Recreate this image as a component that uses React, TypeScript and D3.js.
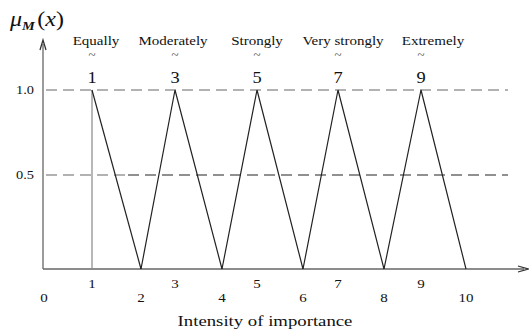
import { useEffect, useRef } from 'react';
import * as d3 from 'd3';

// Saaty scale, triangular fuzzy numbers
const intensities = [0, 1, 2, 3, 4, 5, 6, 7, 8, 9, 10];
const categories = ['Equally', 'Moderately', 'Strongly', 'Very strongly', 'Extremely'];
const peaks = [1, 3, 5, 7, 9];
const lowers = [1, 2, 4, 6, 8];
const uppers = [2, 4, 6, 8, 10];
const yTicks = [0.5, 1.0];

export default function App() {
  const svgRef = useRef<SVGSVGElement>(null);

  useEffect(() => {
    const svg = d3.select(svgRef.current);
    svg.selectAll('*').remove();

    const font = "'Liberation Serif', 'Times New Roman', serif";
    // the original figure is not evenly spaced, so use a piecewise scale
    const x = d3.scaleLinear()
      .domain(intensities)
      .range([43, 92, 141, 175, 222, 257, 303, 338, 384, 421, 466]);
    const y = d3.scaleLinear().domain([0, 0.5, 1]).range([269, 175, 90]);

    // the scanned figure is stretched sideways, so text is too
    const label = (tx: number, ty: number, txt: string, size: number, anchor = 'middle', sx = 1.25) =>
      svg.append('text')
        .attr('transform', `translate(${tx},${ty}) scale(${sx},1)`)
        .attr('text-anchor', anchor)
        .style('font-family', font)
        .style('font-size', `${size}px`)
        .style('fill', '#111')
        .text(txt);

    const axisColor = '#666';

    // axes with arrows
    svg.append('line')
      .attr('x1', x(0)).attr('x2', x(0))
      .attr('y1', y(0)).attr('y2', 44)
      .attr('stroke', axisColor).attr('stroke-width', 1.3);
    svg.append('path')
      .attr('d', `M${x(0) - 3},${50} L${x(0)},${40} L${x(0) + 3},${50}`)
      .attr('fill', 'none').attr('stroke', '#333').attr('stroke-width', 1.3);
    svg.append('line')
      .attr('x1', x(0)).attr('x2', 524)
      .attr('y1', y(0)).attr('y2', y(0))
      .attr('stroke', axisColor).attr('stroke-width', 1.3);
    svg.append('path')
      .attr('d', `M${518},${y(0) - 3} L${528},${y(0)} L${518},${y(0) + 3}`)
      .attr('fill', 'none').attr('stroke', '#333').attr('stroke-width', 1.3);

    // dashed reference lines
    svg.append('line')
      .attr('x1', x(0) + 3).attr('x2', 508)
      .attr('y1', y(1)).attr('y2', y(1))
      .attr('stroke', '#999').attr('stroke-width', 1.3)
      .attr('stroke-dasharray', '11,6');
    svg.append('line')
      .attr('x1', x(0) + 3).attr('x2', 128)
      .attr('y1', y(0.5)).attr('y2', y(0.5))
      .attr('stroke', '#999').attr('stroke-width', 1.3)
      .attr('stroke-dasharray', '11,6');
    svg.append('line')
      .attr('x1', 128).attr('x2', 508)
      .attr('y1', y(0.5)).attr('y2', y(0.5))
      .attr('stroke', '#222').attr('stroke-width', 1.2)
      .attr('stroke-dasharray', '11,6');

    // y tick labels
    yTicks.forEach(t => label(34, y(t) + 4, t.toFixed(1), 12, 'end', 1.2));

    // vertical line at 1
    svg.append('line')
      .attr('x1', x(1)).attr('x2', x(1))
      .attr('y1', y(0)).attr('y2', y(1))
      .attr('stroke', '#888').attr('stroke-width', 1.2);

    // triangles (the first one is a right triangle, its left side is the grey line)
    const line = d3.line<[number, number]>()
      .x(d => x(d[0]))
      .y(d => y(d[1]));
    peaks.forEach((m, i) => {
      const pts: [number, number][] = lowers[i] === m
        ? [[m, 1], [uppers[i], 0]]
        : [[lowers[i], 0], [m, 1], [uppers[i], 0]];
      svg.append('path')
        .attr('d', line(pts) || '')
        .attr('fill', 'none')
        .attr('stroke', '#222')
        .attr('stroke-width', 1.2);
    });

    // category labels and fuzzy numbers
    const catShift = [4, -2, 0, 5, 12];
    categories.forEach((c, i) => label(x(peaks[i]) + catShift[i], 45, c, 12));
    peaks.forEach(p => {
      label(x(p), 59, '~', 13, 'middle', 1.0).style('fill', '#444');
      label(x(p), 83, String(p), 16, 'middle', 1.15);
    });

    // x tick labels, odd raised
    intensities.forEach(d =>
      label(x(d) + (d === 0 ? 1 : 0), d % 2 === 1 ? 288 : 302, String(d), 12, 'middle', 1.25));

    label(265, 326, 'Intensity of importance', 15, 'middle', 1.25);

    // mu_M(x)
    const mu = svg.append('text')
      .attr('transform', 'translate(10,26) scale(1.2,1)')
      .style('font-family', font)
      .style('font-size', '20px')
      .style('fill', '#111');
    mu.append('tspan').style('font-style', 'italic').text('μ');
    mu.append('tspan').attr('dy', 4).style('font-size', '12px')
      .style('font-style', 'italic').style('font-weight', 'bold').text('M');
    mu.append('tspan').attr('dy', -4).attr('dx', 2).text('(');
    mu.append('tspan').style('font-style', 'italic').text('x');
    mu.append('tspan').text(')');
  }, []);

  return (
    <svg
      ref={svgRef}
      width={529}
      height={331}
      style={{ position: 'absolute', left: 0, top: 0, background: '#fff' }}
    />
  );
}
